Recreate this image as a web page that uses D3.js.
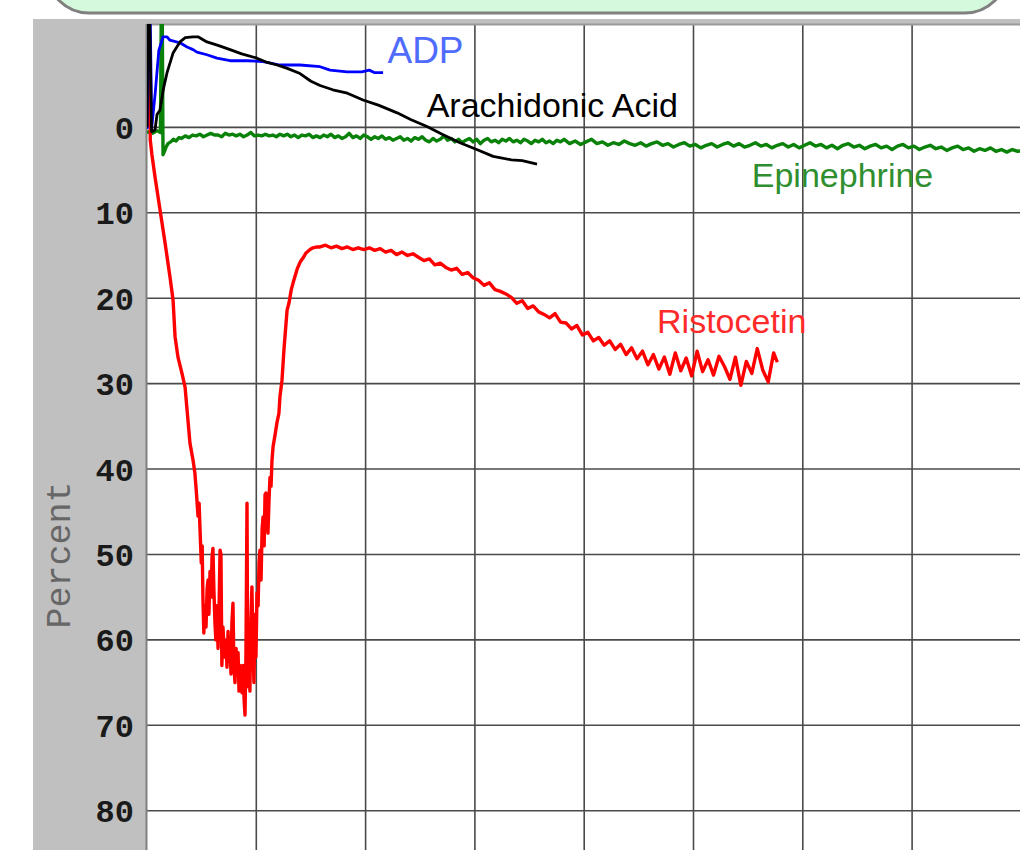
<!DOCTYPE html>
<html>
<head>
<meta charset="utf-8">
<script src="https://cdn.jsdelivr.net/npm/d3@7"></script>
<style>
  body { margin: 0; background: #ffffff; }
  svg { display: block; }
</style>
</head>
<body>
<svg id="chart" width="1020" height="850"></svg>
<script>
// aggregation traces, [seconds, percent]
const adpData = [
  [0, 0.2], [0.8, -12.5], [1.8, -12.5], [2.6, 0.0], [4.5, -4], [6.5, -9], [8.8, -10.6],
  [11, -10.6], [12.6, -10.2], [18.1, -9.9], [22, -9.4], [25.3, -9.1], [27.4, -8.8],
  [32.9, -8.5], [38.4, -8.1], [45.6, -7.8], [55, -7.8], [63.7, -7.7], [73, -7.3],
  [84, -7.3], [95, -7.1], [100.5, -6.7], [109.8, -6.5], [118, -6.5], [122, -6.7],
  [125, -6.4], [129.6, -6.4]
];

const aaData = [
  [0, 0], [0.5, -12.5], [1.5, -12.5], [2.5, 0.5], [4.4, 0.3], [5.5, -1.5], [7.1, -2.0],
  [9, -4.5], [11, -6.4], [14.3, -8.7], [18.1, -10.0], [21, -10.5], [25.3, -10.6],
  [28, -10.6], [32.9, -10.0], [39, -9.6], [45.6, -9.1], [52, -8.6], [60.4, -8.1],
  [66, -7.6], [71.4, -7.3], [77, -6.9], [84, -6.3], [90, -5.4], [95, -4.9], [102, -4.4],
  [110, -4.0], [118.6, -3.2], [127, -2.6], [137.3, -1.7], [145, -0.9], [153.7, -0.1],
  [162, 0.8], [171.8, 1.8], [181, 2.6], [190, 3.4], [200, 3.8], [206, 3.9], [214.1, 4.3]
];

const epiData = [
  [0, 0.5], [3, 0.7], [5.5, 0.4], [7.4, 0.6], [7.8, -12.5], [8.4, -12.5], [8.8, 3.2],
  [9.6, 2.8], [10.5, 2.3], [11.5, 1.9], [13, 1.7], [14.5, 1.4], [16, 1.6], [17.5, 1.2],
  [19, 1.3], [21, 1.0], [23, 1.2], [25, 0.9], [27, 1.0], [29, 0.8], [31, 1.1], [33, 0.9],
  [35, 0.7], [37, 0.9], [39, 0.9], [41, 1.1], [43, 0.7], [45, 0.9], [47, 0.8], [49, 1.0],
  [51, 0.8], [53, 1.1], [55, 0.9], [57, 0.6], [59, 1.0], [61, 0.9], [63, 1.0], [65, 0.8],
  [67, 1.0], [69, 0.9], [71, 1.1], [73, 0.8], [75, 1.0], [77, 0.8], [79, 1.1], [81, 0.9],
  [83, 1.2], [85, 0.9], [87, 1.0], [89, 0.8], [91, 1.2], [93, 1.0], [95, 1.2], [97, 0.9],
  [99, 1.1], [101, 0.8], [103, 1.2], [105, 1.0], [107, 1.3], [109, 1.1], [111, 0.7],
  [113, 1.2], [115, 1.0], [117, 1.3], [119, 0.9], [121, 1.1], [123, 1.4], [125, 1.1],
  [127, 1.3], [129, 1.0], [131, 1.4], [133, 1.2], [135, 1.5], [137, 1.3], [139, 1.1],
  [141, 1.5], [143, 1.3], [145, 1.6], [147, 1.2], [149, 1.4], [151, 1.1], [153, 1.5],
  [155, 1.7], [157, 1.3], [159, 1.6], [161, 1.4], [163, 1.0], [165, 1.5], [167, 1.3],
  [169, 1.7], [171, 1.4], [173, 1.8], [175, 1.5], [177, 1.3], [179, 1.7], [181, 1.4],
  [183, 1.9], [185, 1.5], [187, 1.3], [189, 1.7], [191, 1.5], [193, 1.8], [195, 1.4],
  [197, 1.6], [199, 1.3], [201, 1.7], [203, 1.5], [205, 1.8], [207, 1.4], [209, 1.6],
  [211, 1.9], [213, 1.5], [215, 1.7], [217, 1.4], [219, 1.8], [221, 1.6], [223, 1.9],
  [225, 1.5], [227, 1.7], [229, 1.4], [232, 1.9], [235, 1.6], [238, 2.0], [241, 1.7],
  [244, 1.4], [247, 1.9], [250, 1.7], [253, 2.1], [256, 1.8], [259, 2.0], [262, 1.6],
  [265, 1.9], [268, 2.1], [271, 1.8], [274, 2.2], [277, 1.9], [280, 1.7], [283, 2.1],
  [286, 1.9], [289, 2.3], [292, 2.0], [295, 1.8], [298, 2.2], [301, 2.0], [304, 2.4],
  [307, 2.1], [310, 1.9], [313, 2.3], [316, 2.0], [319, 1.8], [322, 2.2], [325, 1.9],
  [328, 2.3], [331, 2.1], [334, 1.8], [337, 2.2], [340, 2.0], [343, 2.4], [346, 2.1],
  [349, 1.9], [352, 2.3], [355, 2.0], [358, 2.4], [361, 2.1], [364, 1.8], [367, 2.2],
  [370, 2.0], [373, 2.4], [376, 2.1], [379, 2.5], [382, 2.1], [385, 1.9], [388, 2.3],
  [391, 2.1], [394, 2.5], [397, 2.2], [400, 2.0], [403, 2.4], [406, 2.2], [409, 2.6],
  [412, 2.2], [415, 2.0], [418, 2.4], [421, 2.2], [424, 2.6], [427, 2.3], [430, 2.1],
  [433, 2.5], [436, 2.3], [439, 2.7], [442, 2.4], [445, 2.2], [448, 2.6], [451, 2.4],
  [454, 2.8], [457, 2.5], [460, 2.7], [463, 2.4], [466, 2.8], [469, 2.6], [472, 2.9],
  [475, 2.6], [478, 2.8], [481, 2.7], [484, 2.9]
];

const ristoData = [
  [0, 0], [0.5, -12.5], [1.2, -12.5], [1.8, 1.5], [2.7, 3.2], [4.4, 5.8], [7.1, 9.6],
  [9.9, 13.5], [12.6, 17.5], [14.3, 20.2], [15.4, 24.5], [17, 26.9], [19.2, 28.8],
  [20.9, 30.4], [22, 33.1], [23.6, 37], [25.3, 39], [26.3, 40.5], [27.2, 43], [28, 45.5],
  [28.6, 44], [29.1, 47], [29.8, 51], [30.3, 49], [30.7, 55], [31.2, 59.2], [31.8, 56],
  [32.4, 58.5], [33, 54], [33.5, 53], [34, 57], [34.6, 52], [35.2, 55], [35.7, 50.3],
  [36.2, 49.3], [36.7, 54], [37.3, 58], [37.8, 60], [38.4, 56], [39, 61], [39.5, 57],
  [40.1, 49.5], [40.6, 50], [41.1, 63], [41.7, 58.5], [42.3, 61], [42.8, 62], [43.4, 60],
  [43.9, 63.2], [44.5, 59], [45, 62.5], [45.6, 60.5], [46.1, 64], [46.6, 58], [47.2, 55.7],
  [47.7, 63], [48.3, 65], [48.9, 61], [49.4, 63.5], [50, 61.5], [50.5, 66], [51.1, 63],
  [51.6, 65.5], [52.2, 66.2], [52.7, 63], [53.3, 67], [53.8, 68.8], [54.3, 62], [54.9, 44],
  [55.2, 60], [55.5, 65.5], [56, 62], [56.5, 66], [57, 58], [57.6, 53.8], [58.1, 60],
  [58.7, 65], [59.3, 57], [59.8, 62], [60.4, 54.5], [61, 56], [61.5, 51], [62, 49.5],
  [62.6, 53], [63.2, 47], [63.7, 45.6], [64.3, 49], [64.8, 43], [65.3, 42.8], [65.9, 46],
  [66.4, 47.5], [67, 43.5], [67.5, 41], [68.1, 42], [68.6, 39], [69.2, 37.4], [70.3, 36],
  [71.4, 34.5], [72.4, 33.5], [73, 31.5], [74.1, 29.6], [75.2, 26], [76.3, 23],
  [76.9, 21.4], [78, 20.5], [79.2, 19], [80.2, 18.2], [82.4, 16.6], [84, 15.8],
  [85.6, 15.3], [87.3, 14.7], [89.5, 14.3], [91.1, 14.1], [93.3, 14.0],
  [95, 14.0], [98, 13.8], [101, 14.1], [104, 13.9], [107, 14.2], [110, 14.0], [113, 14.3],
  [116, 14.1], [119, 14.3], [122, 14.1], [125, 14.4], [128, 14.2], [131, 14.6], [134, 14.4],
  [137, 14.9], [140, 14.6], [143, 15.0], [146, 14.8], [149, 15.2], [152, 15.6], [155, 15.4],
  [158, 16.1], [161, 15.9], [164, 16.4], [167, 16.7], [170, 16.5], [173, 17.2], [176, 17.0],
  [179, 17.6], [182, 17.9], [185, 18.5], [188, 18.2], [191, 19.0], [194, 19.2], [197, 19.5],
  [200, 19.9], [203, 20.6], [206, 20.3], [209, 21.2], [212, 20.9], [215, 21.6], [218, 21.9],
  [221, 22.3], [224, 21.8], [227, 22.8], [230, 22.9], [233, 23.6], [236, 23.2], [239, 24.3],
  [242, 24.0], [245, 25.0], [248, 24.6], [251, 25.5], [254, 25.0], [257, 26.0], [260, 25.4],
  [263, 26.6], [266, 25.8], [269, 27.1], [272, 26.2], [275, 27.8], [278, 26.6], [281, 28.3],
  [284, 26.9], [287, 28.9], [290, 26.4], [293, 28.5], [296, 27.0], [299, 29.1], [302, 26.2],
  [305, 28.6], [308, 27.2], [311, 29.0], [314, 26.8], [317, 28.0], [320, 29.5], [323, 26.9],
  [326, 30.2], [329, 27.4], [332, 28.8], [335, 25.9], [338, 28.4], [341, 29.8], [344, 26.4],
  [346, 27.5]
];

const yTicks = [0, 10, 20, 30, 40, 50, 60, 70, 80];
const xGrid = [0, 60, 120, 180, 240, 300, 360, 420, 480];

const series = [
  { name: "Epinephrine", data: epiData, color: "#0a820a", labelColor: "#2f8f2f", labelAt: [332, 7.0], size: 34, width: 3.4 },
  { name: "Ristocetin", data: ristoData, color: "#ff0000", labelColor: "#ff2a2a", labelAt: [280, 24.1], size: 34, width: 3.4 },
  { name: "ADP", data: adpData, color: "#0000ff", labelColor: "#4f6cff", labelAt: [132, -7.5], size: 37, width: 2.8 },
  { name: "Arachidonic Acid", data: aaData, color: "#000000", labelColor: "#000000", labelAt: [153.5, -1.2], size: 34, width: 2.8 }
];

const svg = d3.select("#chart");

// plot frame
const plot = { left: 147, top: 24, right: 1022, bottom: 850 };

const x = d3.scaleLinear()
  .domain([0, 480])
  .range([plot.left, plot.left + 8 * 109.3]);

const y = d3.scaleLinear()
  .domain([-12.1, 84.6])
  .range([plot.top, plot.bottom]);

// header box (bottom part only visible)
svg.append("rect")
  .attr("x", 47).attr("y", -120)
  .attr("width", 960).attr("height", 133)
  .attr("rx", 42).attr("ry", 42)
  .attr("fill", "#d4f9dd")
  .attr("stroke", "#808080")
  .attr("stroke-width", 3);

// grey panel
svg.append("rect")
  .attr("x", 33).attr("y", 19)
  .attr("width", 1020 - 33).attr("height", 850 - 19)
  .attr("fill", "#c0c0c0");

svg.append("rect")
  .attr("x", plot.left).attr("y", plot.top)
  .attr("width", plot.right - plot.left).attr("height", plot.bottom - plot.top)
  .attr("fill", "#ffffff");

svg.append("clipPath").attr("id", "clip")
  .append("rect")
  .attr("x", plot.left).attr("y", plot.top)
  .attr("width", plot.right - plot.left).attr("height", plot.bottom - plot.top);

// grid
const grid = svg.append("g");
grid.selectAll(".hgrid")
  .data(yTicks)
  .join("line")
    .attr("class", "hgrid")
    .attr("x1", plot.left).attr("x2", plot.right)
    .attr("y1", d => y(d)).attr("y2", d => y(d))
    .attr("stroke", "#4a4a4a")
    .attr("stroke-width", 1.6);

grid.selectAll(".vgrid")
  .data(xGrid.slice(1))
  .join("line")
    .attr("class", "vgrid")
    .attr("x1", d => x(d)).attr("x2", d => x(d))
    .attr("y1", plot.top).attr("y2", plot.bottom)
    .attr("stroke", "#4a4a4a")
    .attr("stroke-width", 1.6);

// top edge + left axis
svg.append("line")
  .attr("x1", plot.left).attr("x2", plot.right)
  .attr("y1", plot.top + 0.5).attr("y2", plot.top + 0.5)
  .attr("stroke", "#9a9a9a").attr("stroke-width", 2);

svg.append("line")
  .attr("x1", plot.left - 0.5).attr("x2", plot.left - 0.5)
  .attr("y1", plot.top).attr("y2", plot.bottom)
  .attr("stroke", "#808080").attr("stroke-width", 2);

// y tick labels
svg.append("g")
  .selectAll("text")
  .data(yTicks)
  .join("text")
    .attr("x", 134)
    .attr("y", d => y(d))
    .attr("dy", "0.36em")
    .attr("text-anchor", "end")
    .attr("font-family", "'Liberation Mono', 'Courier New', monospace")
    .attr("font-weight", "bold")
    .attr("font-size", 32)
    .attr("fill", "#1a1a1a")
    .text(d => d);

svg.append("text")
  .attr("transform", "translate(70,555) rotate(-90)")
  .attr("text-anchor", "middle")
  .attr("font-family", "'Liberation Mono', 'Courier New', monospace")
  .attr("font-size", 35)
  .attr("fill", "#666666")
  .text("Percent");

// traces
const line = d3.line()
  .x(d => x(d[0]))
  .y(d => y(d[1]));

const traces = svg.append("g").attr("clip-path", "url(#clip)");
series.forEach(s => {
  traces.append("path")
    .datum(s.data)
    .attr("fill", "none")
    .attr("stroke", s.color)
    .attr("stroke-width", s.width)
    .attr("stroke-linejoin", "round")
    .attr("d", line);
});

// trace labels
svg.append("g")
  .selectAll("text")
  .data(series)
  .join("text")
    .attr("x", d => x(d.labelAt[0]))
    .attr("y", d => y(d.labelAt[1]))
    .attr("font-family", "'Liberation Sans', Arial, sans-serif")
    .attr("font-size", d => d.size)
    .attr("fill", d => d.labelColor)
    .text(d => d.name);
</script>
</body>
</html>
